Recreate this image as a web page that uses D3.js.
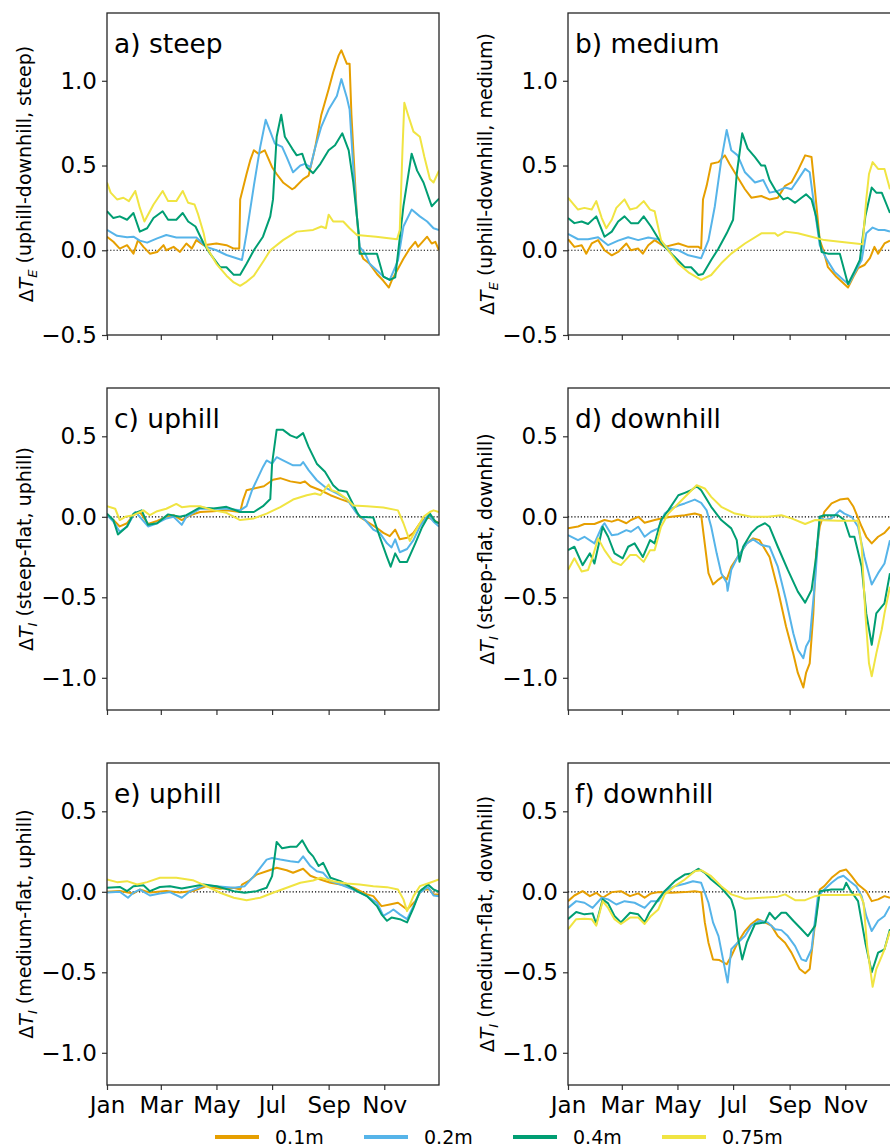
<!DOCTYPE html>
<html>
<head>
<meta charset="utf-8">
<script src="https://cdnjs.cloudflare.com/ajax/libs/d3/7.8.5/d3.min.js"></script>
<style>
body { margin: 0; background: #fff; }
text { font-family: "DejaVu Sans", sans-serif; }
</style>
</head>
<body>
<div id="plot"></div>
<script>
// series names and colours (0.1m, 0.2m, 0.4m, 0.75m)
var depths = ["0.1m", "0.2m", "0.4m", "0.75m"];
var colors = ["#E69F00", "#56B4E9", "#009E73", "#F0E442"];

// x axis is day of year
var monthDays = [0, 59, 120, 181, 243, 304];
var monthLabels = ["Jan", "Mar", "May", "Jul", "Sep", "Nov"];

var tickE = [-0.5, 0.0, 0.5, 1.0];
var tickI = [-1.0, -0.5, 0.0, 0.5];

// a) steep  -- [day, value]
var steep01 = [[0,0.08],[7,0.05],[14,0.01],[22,0.03],[29,-0.02],[34,0.06],[40,0.02],[47,-0.02],[55,-0.01],[62,0.03],[65,0.0],[73,0.02],[80,-0.01],[87,0.04],[93,0.01],[98,0.06],[106,0.03],[120,0.04],[131,0.03],[139,0.01],[145,0.01],[146,0.3],[153,0.45],[157,0.53],[161,0.59],[166,0.57],[173,0.59],[181,0.49],[186,0.45],[193,0.40],[203,0.36],[206,0.37],[215,0.42],[221,0.44],[228,0.60],[235,0.80],[243,0.95],[248,1.05],[254,1.15],[257,1.18],[263,1.10],[266,1.10],[268,0.80],[271,0.50],[274,0.20],[277,0.0],[281,-0.05],[288,-0.08],[296,-0.14],[303,-0.18],[309,-0.22],[312,-0.18],[318,-0.12],[325,-0.05],[332,0.01],[338,0.05],[341,0.02],[351,0.08],[356,0.04],[360,0.05],[364,0.0]];
var steep02 = [[0,0.12],[11,0.085],[22,0.077],[29,0.08],[36,0.057],[44,0.045],[55,0.07],[65,0.09],[76,0.075],[87,0.075],[98,0.075],[109,0.02],[120,0.0],[131,-0.028],[142,-0.047],[148,-0.057],[153,0.10],[161,0.38],[168,0.61],[174,0.77],[179,0.70],[184,0.63],[192,0.61],[197,0.55],[204,0.46],[212,0.50],[217,0.51],[223,0.49],[228,0.60],[235,0.73],[243,0.83],[252,0.91],[257,1.01],[263,0.90],[266,0.83],[270,0.49],[274,0.20],[277,0.02],[283,-0.02],[288,-0.08],[296,-0.12],[303,-0.155],[310,-0.175],[316,-0.10],[319,-0.06],[325,0.14],[334,0.24],[343,0.20],[351,0.17],[358,0.13],[364,0.12]];
var steep04 = [[0,0.23],[7,0.19],[14,0.20],[22,0.18],[29,0.22],[36,0.11],[44,0.13],[51,0.19],[61,0.23],[67,0.18],[76,0.18],[83,0.22],[89,0.17],[97,0.14],[106,0.04],[113,-0.02],[124,-0.10],[131,-0.10],[139,-0.145],[146,-0.145],[153,-0.08],[161,0.0],[171,0.08],[179,0.20],[182,0.30],[186,0.67],[191,0.80],[195,0.67],[203,0.60],[208,0.56],[214,0.57],[219,0.49],[226,0.455],[234,0.51],[243,0.59],[250,0.62],[258,0.69],[265,0.59],[270,0.40],[276,0.10],[277,-0.02],[285,-0.02],[296,-0.02],[303,-0.155],[310,-0.175],[316,-0.16],[319,-0.02],[325,0.26],[334,0.57],[340,0.47],[347,0.40],[356,0.26],[364,0.305]];
var steep075 = [[0,0.40],[4,0.34],[11,0.30],[18,0.31],[24,0.29],[31,0.35],[36,0.25],[41,0.17],[51,0.27],[61,0.35],[67,0.29],[76,0.29],[83,0.35],[89,0.28],[96,0.27],[100,0.21],[106,0.10],[109,0.02],[120,-0.08],[131,-0.15],[139,-0.19],[146,-0.21],[152,-0.19],[161,-0.15],[172,-0.06],[179,0.0],[193,0.06],[208,0.11],[226,0.12],[235,0.14],[240,0.13],[243,0.21],[248,0.17],[259,0.17],[266,0.13],[274,0.09],[295,0.08],[318,0.065],[321,0.12],[324,0.6],[326,0.87],[330,0.80],[336,0.70],[343,0.67],[348,0.55],[354,0.42],[358,0.40],[364,0.47]];

// b) medium
var medium01 = [[0,0.065],[7,0.02],[15,0.03],[20,-0.02],[26,0.04],[33,0.06],[40,0.0],[48,-0.03],[55,-0.01],[64,0.04],[69,0.0],[77,0.01],[82,-0.02],[88,0.03],[95,0.06],[106,0.02],[121,0.04],[132,0.02],[143,0.02],[146,0.01],[148,0.30],[152,0.38],[157,0.51],[165,0.52],[172,0.56],[177,0.51],[185,0.44],[194,0.36],[201,0.31],[212,0.32],[221,0.30],[230,0.31],[238,0.38],[245,0.40],[252,0.47],[260,0.56],[267,0.55],[271,0.34],[276,0.06],[280,0.0],[285,-0.10],[294,-0.155],[302,-0.195],[307,-0.22],[313,-0.155],[318,-0.106],[325,-0.087],[331,-0.047],[336,0.02],[340,-0.02],[347,0.04],[353,0.057]];
var medium02 = [[0,0.096],[11,0.065],[22,0.065],[33,0.077],[44,0.03],[55,0.057],[66,0.077],[77,0.06],[88,0.075],[99,0.065],[110,0.01],[121,0.0],[132,-0.03],[146,-0.047],[154,0.06],[161,0.26],[168,0.53],[174,0.71],[179,0.59],[186,0.56],[194,0.46],[205,0.40],[214,0.415],[221,0.34],[230,0.35],[238,0.37],[245,0.36],[252,0.415],[260,0.48],[265,0.46],[269,0.30],[276,0.03],[283,-0.047],[292,-0.126],[302,-0.175],[308,-0.20],[314,-0.136],[322,-0.057],[327,0.10],[334,0.134],[340,0.12],[347,0.12],[353,0.11]];
var medium04 = [[0,0.19],[7,0.16],[15,0.17],[22,0.155],[31,0.20],[40,0.08],[48,0.11],[55,0.17],[62,0.20],[69,0.16],[77,0.16],[83,0.20],[91,0.14],[99,0.07],[106,0.02],[117,-0.04],[128,-0.10],[135,-0.10],[143,-0.146],[148,-0.14],[157,-0.057],[165,0.01],[174,0.10],[181,0.18],[185,0.45],[191,0.69],[197,0.60],[205,0.55],[212,0.50],[216,0.50],[221,0.415],[228,0.35],[236,0.30],[241,0.31],[249,0.28],[256,0.31],[261,0.33],[267,0.30],[272,0.20],[278,-0.01],[285,-0.02],[298,-0.02],[302,-0.10],[307,-0.20],[313,-0.136],[320,-0.057],[326,0.20],[333,0.37],[338,0.34],[344,0.34],[353,0.22]];
var medium075 = [[0,0.31],[11,0.24],[18,0.25],[26,0.24],[31,0.29],[37,0.19],[42,0.13],[48,0.18],[53,0.25],[62,0.30],[68,0.24],[75,0.25],[83,0.29],[90,0.24],[95,0.23],[102,0.06],[110,0.0],[121,-0.08],[132,-0.13],[146,-0.175],[157,-0.146],[168,-0.077],[179,-0.02],[194,0.04],[212,0.10],[227,0.10],[230,0.085],[238,0.11],[252,0.10],[267,0.08],[281,0.06],[303,0.047],[323,0.035],[327,0.30],[330,0.45],[334,0.52],[340,0.48],[347,0.48],[353,0.36]];

// c) uphill, steep-flat
var upSteep01 = [[0,0.01],[7,-0.02],[14,-0.06],[22,-0.04],[29,0.01],[36,0.03],[45,-0.045],[55,-0.025],[65,0.0],[73,0.01],[82,-0.02],[91,0.01],[102,0.03],[117,0.035],[131,0.04],[146,0.03],[149,0.10],[153,0.165],[161,0.176],[172,0.19],[182,0.23],[190,0.24],[201,0.22],[212,0.21],[217,0.22],[223,0.19],[234,0.165],[245,0.134],[256,0.11],[266,0.09],[277,0.0],[288,-0.04],[296,-0.07],[303,-0.10],[310,-0.12],[316,-0.08],[321,-0.14],[329,-0.13],[336,-0.10],[343,-0.04],[351,0.0],[358,-0.02],[364,-0.04]];
var upSteep02 = [[0,0.01],[7,-0.03],[14,-0.093],[22,-0.06],[31,0.03],[36,0.0],[45,-0.06],[55,-0.04],[65,-0.01],[73,0.0],[82,-0.05],[87,0.0],[102,0.05],[117,0.05],[131,0.05],[146,0.04],[153,0.066],[159,0.165],[166,0.25],[171,0.31],[175,0.35],[181,0.33],[186,0.37],[193,0.35],[204,0.32],[212,0.32],[215,0.34],[221,0.29],[230,0.227],[241,0.176],[252,0.145],[263,0.11],[274,0.02],[283,-0.02],[292,-0.08],[299,-0.10],[307,-0.165],[312,-0.19],[316,-0.14],[321,-0.22],[329,-0.20],[336,-0.145],[343,-0.06],[352,0.01],[358,-0.03],[364,-0.06]];
var upSteep04 = [[0,0.02],[7,-0.02],[12,-0.11],[22,-0.06],[29,0.02],[38,0.04],[45,-0.05],[55,-0.04],[67,0.015],[80,0.0],[87,0.01],[102,0.058],[117,0.052],[131,0.062],[146,0.03],[161,0.03],[171,0.066],[179,0.11],[181,0.33],[186,0.54],[193,0.54],[201,0.506],[208,0.49],[215,0.52],[221,0.434],[230,0.33],[239,0.28],[248,0.196],[254,0.165],[263,0.155],[274,0.03],[277,0.0],[292,-0.005],[299,-0.124],[307,-0.25],[311,-0.31],[316,-0.227],[321,-0.28],[329,-0.28],[338,-0.165],[345,-0.07],[354,0.02],[360,-0.03],[364,-0.04]];
var upSteep075 = [[0,0.066],[9,0.05],[14,-0.02],[20,0.0],[29,0.01],[40,0.04],[47,0.01],[55,0.035],[65,0.05],[76,0.08],[82,0.06],[91,0.066],[102,0.066],[117,0.04],[131,0.025],[146,-0.02],[161,-0.01],[175,0.02],[190,0.06],[204,0.107],[219,0.134],[228,0.145],[234,0.135],[243,0.20],[246,0.165],[252,0.155],[263,0.11],[270,0.07],[285,0.066],[303,0.058],[319,0.04],[325,-0.04],[332,-0.15],[338,-0.09],[347,0.0],[354,0.03],[358,0.04],[364,0.03]];

// d) downhill, steep-flat
var downSteep01 = [[0,-0.072],[11,-0.06],[18,-0.045],[29,-0.045],[40,-0.02],[48,-0.03],[55,-0.017],[64,-0.04],[69,-0.02],[77,0.0],[84,-0.037],[95,-0.02],[102,-0.01],[113,0.0],[128,0.01],[139,0.02],[146,0.01],[149,-0.124],[154,-0.35],[159,-0.42],[165,-0.39],[170,-0.37],[174,-0.39],[179,-0.31],[186,-0.25],[196,-0.165],[203,-0.134],[210,-0.145],[221,-0.25],[230,-0.45],[239,-0.68],[247,-0.85],[252,-0.97],[258,-1.06],[261,-0.97],[265,-0.91],[269,-0.60],[272,-0.227],[276,-0.062],[281,0.03],[289,0.083],[298,0.107],[307,0.114],[313,0.062],[322,-0.062],[327,-0.124],[333,-0.165],[340,-0.124],[347,-0.10],[353,-0.062]];
var downSteep02 = [[0,-0.114],[11,-0.145],[18,-0.124],[29,-0.165],[37,-0.062],[40,-0.04],[48,-0.114],[55,-0.108],[64,-0.083],[69,-0.093],[77,-0.062],[84,-0.124],[91,-0.093],[99,-0.072],[106,0.02],[113,0.05],[121,0.07],[128,0.083],[139,0.107],[146,0.087],[152,0.04],[157,-0.062],[163,-0.227],[168,-0.35],[174,-0.41],[175,-0.46],[179,-0.33],[186,-0.25],[196,-0.165],[203,-0.14],[212,-0.175],[221,-0.186],[230,-0.31],[239,-0.517],[247,-0.723],[252,-0.826],[258,-0.878],[261,-0.806],[265,-0.764],[271,-0.39],[276,0.0],[281,-0.02],[289,-0.01],[298,0.04],[303,0.02],[311,0.0],[318,-0.062],[325,-0.25],[333,-0.42],[340,-0.35],[347,-0.29],[353,-0.145]];
var downSteep04 = [[0,-0.207],[7,-0.186],[16,-0.30],[24,-0.227],[29,-0.29],[38,-0.062],[44,-0.124],[51,-0.227],[60,-0.258],[66,-0.186],[73,-0.165],[82,-0.25],[90,-0.145],[95,-0.165],[102,-0.02],[110,0.04],[121,0.134],[128,0.149],[135,0.165],[141,0.19],[146,0.165],[157,0.062],[168,-0.02],[179,-0.072],[185,-0.145],[188,-0.279],[192,-0.186],[201,-0.10],[208,-0.062],[216,-0.04],[221,-0.062],[230,-0.186],[241,-0.33],[252,-0.465],[260,-0.533],[267,-0.455],[272,-0.25],[276,0.0],[281,0.01],[296,0.01],[303,-0.02],[309,-0.124],[314,-0.124],[322,-0.31],[327,-0.60],[333,-0.795],[338,-0.60],[344,-0.558],[347,-0.537],[353,-0.35]];
var downSteep075 = [[0,-0.33],[7,-0.258],[15,-0.34],[22,-0.33],[27,-0.25],[33,-0.134],[40,-0.207],[49,-0.279],[58,-0.30],[68,-0.238],[75,-0.238],[83,-0.28],[90,-0.207],[95,-0.207],[102,-0.062],[110,0.02],[121,0.083],[132,0.145],[141,0.196],[150,0.176],[157,0.124],[168,0.062],[183,0.02],[201,0.0],[219,0.0],[234,0.01],[245,-0.01],[260,-0.045],[271,-0.02],[296,-0.025],[318,-0.025],[322,-0.186],[326,-0.60],[330,-0.91],[333,-0.99],[338,-0.85],[344,-0.70],[347,-0.60],[353,-0.434]];

// e) uphill, medium-flat
var upMedium01 = [[0,0.0],[14,0.005],[29,-0.01],[36,0.014],[47,-0.005],[65,0.005],[80,-0.005],[94,0.005],[109,0.035],[124,0.019],[139,0.025],[146,0.014],[148,0.045],[155,0.066],[164,0.107],[175,0.128],[186,0.149],[197,0.134],[204,0.118],[215,0.143],[223,0.10],[234,0.076],[245,0.056],[256,0.045],[270,0.025],[285,-0.016],[292,-0.027],[301,-0.089],[310,-0.079],[319,-0.068],[329,-0.11],[338,-0.058],[345,0.014],[354,0.014],[358,-0.016],[364,-0.016]];
var upMedium02 = [[0,-0.005],[14,0.0],[23,-0.037],[29,-0.005],[36,0.014],[47,-0.023],[58,-0.01],[69,-0.002],[82,-0.037],[91,0.004],[106,0.04],[120,0.035],[139,0.025],[151,0.035],[161,0.097],[168,0.149],[175,0.20],[181,0.21],[190,0.20],[201,0.19],[210,0.184],[215,0.22],[223,0.16],[230,0.128],[237,0.118],[245,0.066],[256,0.045],[270,0.014],[277,-0.005],[285,-0.027],[296,-0.068],[303,-0.15],[309,-0.13],[314,-0.11],[321,-0.14],[329,-0.17],[336,-0.089],[343,-0.005],[352,0.03],[358,-0.023],[364,-0.027]];
var upMedium04 = [[0,0.025],[14,0.03],[22,0.004],[29,0.035],[40,0.04],[47,0.004],[58,0.03],[69,0.035],[82,0.02],[91,0.03],[106,0.045],[120,0.035],[139,0.004],[151,-0.006],[164,0.004],[175,0.025],[181,0.097],[186,0.31],[192,0.27],[201,0.28],[208,0.28],[214,0.32],[221,0.25],[226,0.22],[232,0.16],[237,0.18],[245,0.087],[256,0.066],[263,0.045],[274,0.004],[285,-0.027],[296,-0.089],[301,-0.14],[307,-0.18],[312,-0.16],[321,-0.17],[329,-0.19],[336,-0.10],[343,0.004],[352,0.045],[358,0.014],[364,0.0]];
var upMedium075 = [[0,0.076],[11,0.06],[22,0.066],[33,0.045],[44,0.06],[58,0.087],[76,0.087],[94,0.072],[109,0.035],[124,-0.006],[139,-0.037],[153,-0.052],[168,-0.037],[182,-0.006],[197,0.025],[212,0.056],[226,0.07],[234,0.087],[239,0.08],[248,0.066],[263,0.052],[277,0.045],[292,0.035],[307,0.029],[319,0.014],[325,-0.047],[329,-0.12],[336,-0.027],[343,0.035],[354,0.056],[364,0.076]];

// f) downhill, medium-flat
var downMedium01 = [[0,-0.058],[7,-0.023],[16,0.004],[24,-0.027],[31,-0.006],[38,-0.037],[48,-0.002],[58,0.004],[68,-0.027],[77,-0.01],[84,-0.037],[91,-0.01],[99,-0.002],[113,-0.006],[128,-0.002],[139,0.004],[146,-0.002],[150,-0.19],[154,-0.316],[159,-0.42],[166,-0.424],[174,-0.45],[179,-0.40],[186,-0.316],[194,-0.244],[201,-0.20],[208,-0.17],[216,-0.19],[223,-0.21],[230,-0.275],[238,-0.316],[245,-0.378],[254,-0.48],[260,-0.506],[265,-0.48],[271,-0.19],[276,0.014],[281,0.035],[289,0.087],[298,0.128],[305,0.138],[311,0.097],[318,0.045],[327,0.004],[333,-0.058],[340,-0.047],[347,-0.027],[353,-0.037]];
var downMedium02 = [[0,-0.10],[9,-0.058],[18,-0.068],[27,-0.10],[37,-0.037],[44,-0.047],[53,-0.079],[62,-0.058],[73,-0.068],[84,-0.10],[91,-0.058],[99,-0.058],[106,0.004],[117,0.035],[128,0.05],[137,0.066],[146,0.056],[154,-0.068],[159,-0.19],[165,-0.275],[170,-0.42],[175,-0.564],[179,-0.357],[186,-0.316],[194,-0.275],[201,-0.21],[210,-0.18],[219,-0.19],[227,-0.233],[234,-0.238],[241,-0.275],[249,-0.337],[256,-0.42],[261,-0.43],[267,-0.357],[274,-0.027],[281,0.014],[289,0.056],[296,0.087],[302,0.10],[309,0.066],[316,0.035],[322,-0.027],[327,-0.15],[333,-0.244],[340,-0.18],[347,-0.15],[353,-0.089]];
var downMedium04 = [[0,-0.17],[9,-0.126],[18,-0.14],[27,-0.134],[31,-0.20],[38,-0.047],[44,-0.072],[51,-0.15],[58,-0.19],[68,-0.13],[77,-0.14],[84,-0.19],[89,-0.13],[99,-0.047],[106,0.004],[117,0.066],[128,0.107],[135,0.114],[143,0.143],[150,0.118],[157,0.076],[168,0.025],[179,-0.047],[183,-0.12],[186,-0.275],[191,-0.42],[196,-0.316],[205,-0.20],[216,-0.19],[221,-0.13],[227,-0.17],[234,-0.13],[239,-0.13],[247,-0.18],[256,-0.233],[263,-0.275],[271,-0.21],[276,0.004],[289,0.014],[302,0.014],[305,0.056],[309,0.014],[318,-0.058],[326,-0.316],[333,-0.50],[340,-0.378],[347,-0.357],[353,-0.233]];
var downMedium075 = [[0,-0.233],[9,-0.17],[18,-0.167],[26,-0.17],[31,-0.21],[38,-0.058],[44,-0.10],[51,-0.17],[58,-0.20],[68,-0.16],[77,-0.16],[84,-0.20],[91,-0.15],[99,-0.11],[106,-0.016],[117,0.035],[128,0.076],[139,0.128],[146,0.134],[157,0.097],[168,0.035],[179,-0.016],[194,-0.043],[212,-0.037],[230,-0.03],[238,-0.016],[249,-0.052],[260,-0.052],[271,-0.027],[278,-0.02],[303,-0.02],[320,-0.016],[324,-0.068],[328,-0.337],[334,-0.59],[338,-0.48],[344,-0.40],[347,-0.357],[353,-0.244]];

// set the dimensions of the panels
var width = 332,
    height = 322;
var colX = [107, 568],
    rowY = [13, 388, 763];

var panels = [
    {title: "a) steep", sub: "E", label: " (uphill-downhill, steep)", col: 0, row: 0, dom: [-0.5, 1.4], ticks: tickE, series: [steep01, steep02, steep04, steep075]},
    {title: "b) medium", sub: "E", label: " (uphill-downhill, medium)", col: 1, row: 0, dom: [-0.5, 1.4], ticks: tickE, series: [medium01, medium02, medium04, medium075]},
    {title: "c) uphill", sub: "I", label: " (steep-flat, uphill)", col: 0, row: 1, dom: [-1.2, 0.8], ticks: tickI, series: [upSteep01, upSteep02, upSteep04, upSteep075]},
    {title: "d) downhill", sub: "I", label: " (steep-flat, downhill)", col: 1, row: 1, dom: [-1.2, 0.8], ticks: tickI, series: [downSteep01, downSteep02, downSteep04, downSteep075]},
    {title: "e) uphill", sub: "I", label: " (medium-flat, uphill)", col: 0, row: 2, dom: [-1.2, 0.8], ticks: tickI, series: [upMedium01, upMedium02, upMedium04, upMedium075]},
    {title: "f) downhill", sub: "I", label: " (medium-flat, downhill)", col: 1, row: 2, dom: [-1.2, 0.8], ticks: tickI, series: [downMedium01, downMedium02, downMedium04, downMedium075]}
];

var svg = d3.select("#plot")
    .append("svg")
    .attr("width", 890)
    .attr("height", 1147)
    .style("display", "block")
    .style("background", "#fff");

var x = d3.scaleLinear()
    .domain([0, 364])
    .range([0, width]);

var fmt = d3.format(".1f");

panels.forEach(function(p, i) {
    var g = svg.append("g")
        .attr("transform", `translate(${colX[p.col]}, ${rowY[p.row]})`);

    var y = d3.scaleLinear()
        .domain(p.dom)
        .range([height, 0]);

    g.append("clipPath")
        .attr("id", "clip" + i)
        .append("rect")
        .attr("width", width)
        .attr("height", height);

    // zero line
    g.append("line")
        .attr("x1", 0)
        .attr("x2", width)
        .attr("y1", y(0))
        .attr("y2", y(0))
        .attr("stroke", "#000")
        .attr("stroke-width", 1.2)
        .attr("stroke-dasharray", "1.2,2");

    // Lines
    var line = d3.line()
        .x(d => x(d[0]))
        .y(d => y(d[1]));

    g.append("g")
        .attr("clip-path", `url(#clip${i})`)
        .selectAll("path")
        .data(p.series)
        .enter()
        .append("path")
        .attr("d", line)
        .attr("fill", "none")
        .attr("stroke", (d, k) => colors[k])
        .attr("stroke-width", 2)
        .attr("stroke-linejoin", "round");

    // Y axis
    var ya = g.append("g")
        .call(d3.axisLeft(y).tickValues(p.ticks).tickFormat(fmt).tickSize(5).tickPadding(5));
    ya.select(".domain").remove();
    ya.selectAll("line").attr("stroke", "#333").attr("stroke-width", 1.2);
    ya.selectAll("text").style("font-size", "23px").attr("fill", "#000");

    // X axis, labels only on the bottom row
    var xa = g.append("g")
        .attr("transform", `translate(0, ${height})`)
        .call(d3.axisBottom(x).tickValues(monthDays)
            .tickFormat((d, k) => p.row === 2 ? monthLabels[k] : "")
            .tickSize(5).tickPadding(7));
    xa.select(".domain").remove();
    xa.selectAll("line").attr("stroke", "#333").attr("stroke-width", 1.2);
    xa.selectAll("text").style("font-size", "23px").attr("fill", "#000");

    // frame
    g.append("rect")
        .attr("width", width)
        .attr("height", height)
        .attr("fill", "none")
        .attr("stroke", "#262626")
        .attr("stroke-width", 1.3);

    // panel title
    g.append("text")
        .attr("x", 7)
        .attr("y", 40)
        .style("font-size", "26.5px")
        .text(p.title);

    // y label
    var lab = g.append("text")
        .attr("transform", `translate(-74, ${height / 2}) rotate(-90)`)
        .style("text-anchor", "middle")
        .style("font-size", "19px");
    lab.append("tspan").text("\u0394");
    lab.append("tspan").style("font-style", "italic").text("T");
    lab.append("tspan").style("font-style", "italic").style("font-size", "13px").attr("dy", "0.3em").text(p.sub);
    lab.append("tspan").attr("dy", "-0.3em").text(p.label);
});

// legend
var legend = svg.append("g")
    .attr("transform", "translate(215, 1137)");

var items = legend.selectAll("g")
    .data(depths)
    .enter()
    .append("g")
    .attr("transform", (d, k) => `translate(${k * 149}, 0)`);

items.append("line")
    .attr("x1", 0)
    .attr("x2", 44)
    .attr("stroke", (d, k) => colors[k])
    .attr("stroke-width", 4);

items.append("text")
    .attr("x", 60)
    .attr("y", 7)
    .style("font-size", "19px")
    .text(d => d);
</script>
</body>
</html>
